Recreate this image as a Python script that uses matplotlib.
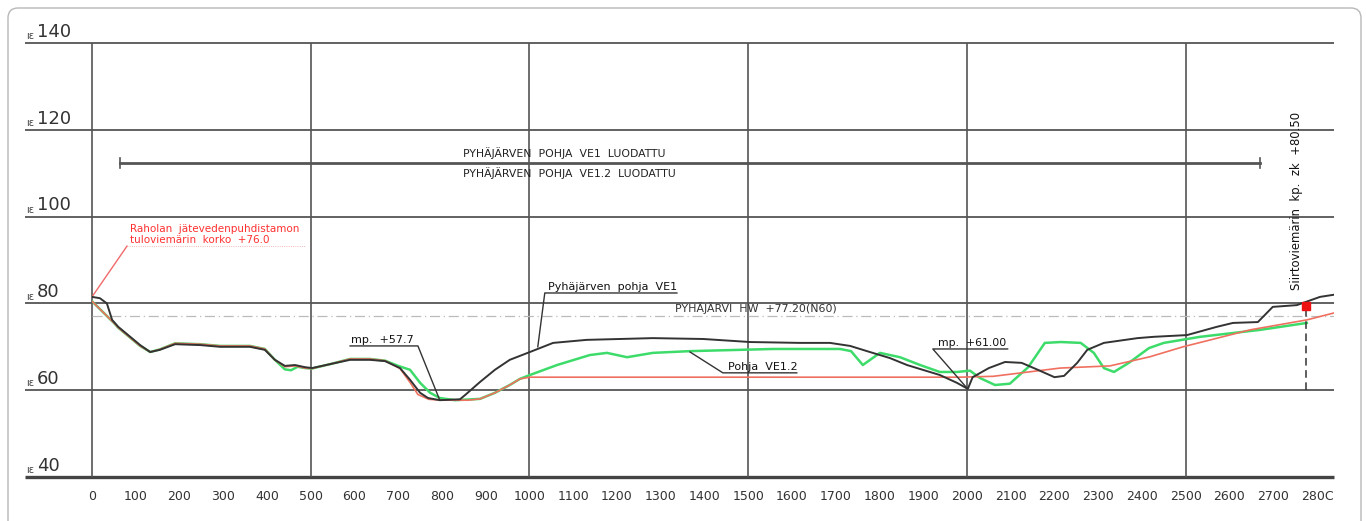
import matplotlib.pyplot as plt
from matplotlib.patches import FancyBboxPatch
from matplotlib.transforms import IdentityTransform

# ------------------------------
# data
# ------------------------------
black_x = [0, 18, 34, 46, 60, 110, 133, 155, 190, 247, 293, 361, 395, 418, 441, 464, 487, 503,
           544, 590, 635, 670, 704, 727, 750, 768, 795, 841, 853, 887, 921, 955, 1001, 1054, 1131,
           1282, 1397, 1504, 1618, 1687, 1733, 1778, 1824, 1863, 1938, 1977, 2002, 2013, 2050,
           2087, 2125, 2162, 2200, 2222, 2252, 2275, 2313, 2390, 2427, 2503, 2571, 2608, 2665,
           2699, 2754, 2807, 2839]
black_y = [81.5, 81.2, 80.0, 76.2, 74.6, 70.4, 68.8, 69.3, 70.6, 70.4, 70.0, 70.0, 69.3, 67.0,
           65.6, 65.8, 65.3, 65.1, 66.0, 67.0, 67.0, 66.7, 65.1, 62.4, 59.4, 58.2, 57.7, 57.9,
           58.9, 61.9, 64.7, 67.0, 68.8, 70.9, 71.6, 72.0, 71.8, 71.1, 70.9, 70.9, 70.2, 68.8,
           67.4, 65.8, 63.5, 61.7, 60.3, 63.0, 65.1, 66.5, 66.3, 64.7, 63.0, 63.3, 66.3, 69.3,
           70.9, 72.0, 72.3, 72.7, 74.6, 75.5, 75.7, 79.2, 79.6, 81.5, 82.0]

red_x = [0, 52, 60, 110, 133, 155, 190, 247, 293, 361, 395, 418, 441, 464, 487, 503, 544, 590,
         635, 670, 704, 727, 745, 770, 800, 860, 887, 921, 955, 978, 1001, 1500, 1984, 2060,
         2213, 2327, 2418, 2494, 2647, 2777, 2839]
red_y = [80.5, 75.3, 74.4, 70.2, 68.8, 69.4, 70.8, 70.6, 70.2, 70.2, 69.5, 67.0, 65.4, 65.6,
         65.1, 65.0, 66.0, 67.2, 67.2, 66.8, 65.0, 61.8, 59.0, 57.9, 57.7, 57.7, 58.0, 59.4,
         61.2, 62.6, 63.0, 63.0, 63.0, 63.2, 65.1, 65.6, 67.7, 70.0, 73.9, 76.2, 77.8]

green_x = [0, 52, 60, 110, 133, 155, 190, 247, 293, 361, 395, 418, 441, 455, 470, 487, 503, 544,
           590, 635, 670, 700, 727, 750, 773, 795, 830, 887, 921, 955, 978, 1001, 1063, 1138,
           1177, 1223, 1282, 1367, 1557, 1710, 1735, 1762, 1801, 1847, 1893, 1938, 1977, 2007,
           2030, 2064, 2098, 2140, 2178, 2215, 2260, 2290, 2313, 2336, 2370, 2416, 2450, 2533,
           2670, 2777]
green_y = [80.5, 75.3, 74.4, 70.2, 68.8, 69.4, 70.8, 70.6, 70.2, 70.2, 69.5, 67.0, 64.8, 64.6,
           65.4, 65.1, 65.0, 66.0, 67.2, 67.2, 66.8, 65.6, 64.7, 61.7, 59.4, 58.2, 57.7, 58.0,
           59.4, 61.2, 62.6, 63.5, 65.8, 68.1, 68.6, 67.6, 68.6, 69.0, 69.5, 69.5, 69.0, 65.8,
           68.6, 67.6, 65.8, 64.2, 64.2, 64.5, 62.8, 61.2, 61.5, 65.3, 70.9, 71.1, 70.9, 68.6,
           65.1, 64.2, 66.3, 69.7, 70.9, 72.3, 73.9, 75.5]

hw_level = 77.2
well_x = 2775
well_top = 80.0
well_mark = 79.3

grid_x = [0, 500, 1000, 1500, 2000, 2500]
grid_y = [40, 60, 80, 100, 120, 140]
x_ticks = list(range(0, 2900, 100))
x_labels = [str(t) for t in range(0, 2800, 100)] + ['280C']

XMAX = 2839

fig = plt.figure(figsize=(13.66, 5.21), dpi=100)
ax = fig.add_axes([92 / 1366, 44 / 521, (1334 - 92) / 1366, 434 / 521])
ax.set_xlim(0, XMAX)
ax.set_ylim(40, 140)
for s in ax.spines.values():
    s.set_visible(False)

# outer rounded frame
frame = FancyBboxPatch((8, -30), 1353, 543, boxstyle="round,pad=0,rounding_size=10",
                       transform=IdentityTransform(), facecolor='none',
                       edgecolor='#b8b8b8', linewidth=1.0)
fig.patches.append(frame)

# grid
ax.hlines(grid_y[1:], -153, XMAX, colors='#555555', linewidth=1.3, clip_on=False, zorder=1)
ax.hlines([40], -153, XMAX, colors='#444444', linewidth=2.4, clip_on=False, zorder=1)
ax.vlines(grid_x, 40, 140, colors='#555555', linewidth=1.2, clip_on=False, zorder=1)
for gy in grid_y:
    ax.text(-150, gy + 0.4, 'ıε', fontsize=7, color='#444444', ha='left', va='bottom')
    ax.text(-126, gy + 0.5, str(gy), fontsize=13, color='#333333', ha='left', va='bottom')

ax.set_xticks(x_ticks)
ax.set_xticklabels(x_labels)
ax.tick_params(axis='x', length=0, pad=9, labelsize=9, labelcolor='#333333')
ax.set_yticks([])

# HW level
ax.hlines([hw_level], 0, XMAX, colors='#bbbbbb', linewidth=0.9, linestyles=(0, (8, 3, 1, 3)),
          zorder=1)
ax.text(1332, hw_level + 0.4, 'PYHÄJÄRVI  HW  +77.20(N60)', fontsize=7.9, color='#333333',
        ha='left', va='bottom')

# profiles
ax.plot(green_x, green_y, color='#3ddc6a', linewidth=1.8, zorder=3)
ax.plot(red_x, red_y, color='#f07060', linewidth=1.2, zorder=4)
ax.plot(black_x, black_y, color='#333333', linewidth=1.4, zorder=5)

# dimension bar
ax.plot([64, 2670], [112.4, 112.4], color='#555555', linewidth=2.0, zorder=2)
ax.plot([64, 64], [111.2, 113.6], color='#555555', linewidth=1.2)
ax.plot([2670, 2670], [111.2, 113.6], color='#555555', linewidth=1.2)
ax.text(848, 113.2, 'PYHÄJÄRVEN  POHJA  VE1  LUODATTU', fontsize=7.8, color='#222222',
        ha='left', va='bottom')
ax.text(848, 111.3, 'PYHÄJÄRVEN  POHJA  VE1.2  LUODATTU', fontsize=7.8, color='#222222',
        ha='left', va='top')

# red note
ax.plot([0, 80], [81.5, 93.2], color='#f06a6a', linewidth=1.0, zorder=2)
ax.plot([80, 487], [93.2, 93.2], color='#f3a0a0', linewidth=0.6, linestyle=':')
ax.text(87, 97.1, 'Raholan  jätevedenpuhdistamon', fontsize=7.5, color='#ff3030',
        ha='left', va='center')
ax.text(87, 94.7, 'tuloviemärin  korko  +76.0', fontsize=7.5, color='#ff3030',
        ha='left', va='center')

# leaders
ax.plot([1019, 1035, 1337], [70.0, 82.4, 82.4], color='#333333', linewidth=1.0, zorder=6)
ax.text(1042, 82.7, 'Pyhäjärven  pohja  VE1', fontsize=8, color='#111111',
        ha='left', va='bottom')

ax.plot([795, 745, 590], [57.7, 70.2, 70.2], color='#333333', linewidth=1.0, zorder=6)
ax.text(592, 70.4, 'mp.  +57.7', fontsize=8, color='#111111', ha='left', va='bottom')

ax.plot([2000, 1922, 2093], [60.5, 69.5, 69.5], color='#333333', linewidth=1.0, zorder=6)
ax.text(1934, 69.7, 'mp.  +61.00', fontsize=7.8, color='#111111', ha='left', va='bottom')

ax.plot([1367, 1442, 1611], [68.8, 64.0, 64.0], color='#333333', linewidth=1.0, zorder=6)
ax.text(1453, 64.3, 'Pohja  VE1.2', fontsize=8, color='#111111', ha='left', va='bottom')

# well
ax.plot([well_x, well_x], [60, well_top], color='#333333', linewidth=1.1,
        linestyle=(0, (5, 3)), zorder=6)
ax.plot([well_x], [well_mark], marker='s', markersize=6, color='#ee1111', zorder=7)
ax.text(2754, 103.5, 'Siirtoviemärin  kp.  zk  +80.50', fontsize=8.4, color='#111111',
        rotation=90, ha='center', va='center')

fig.savefig('out.png', dpi=100)
